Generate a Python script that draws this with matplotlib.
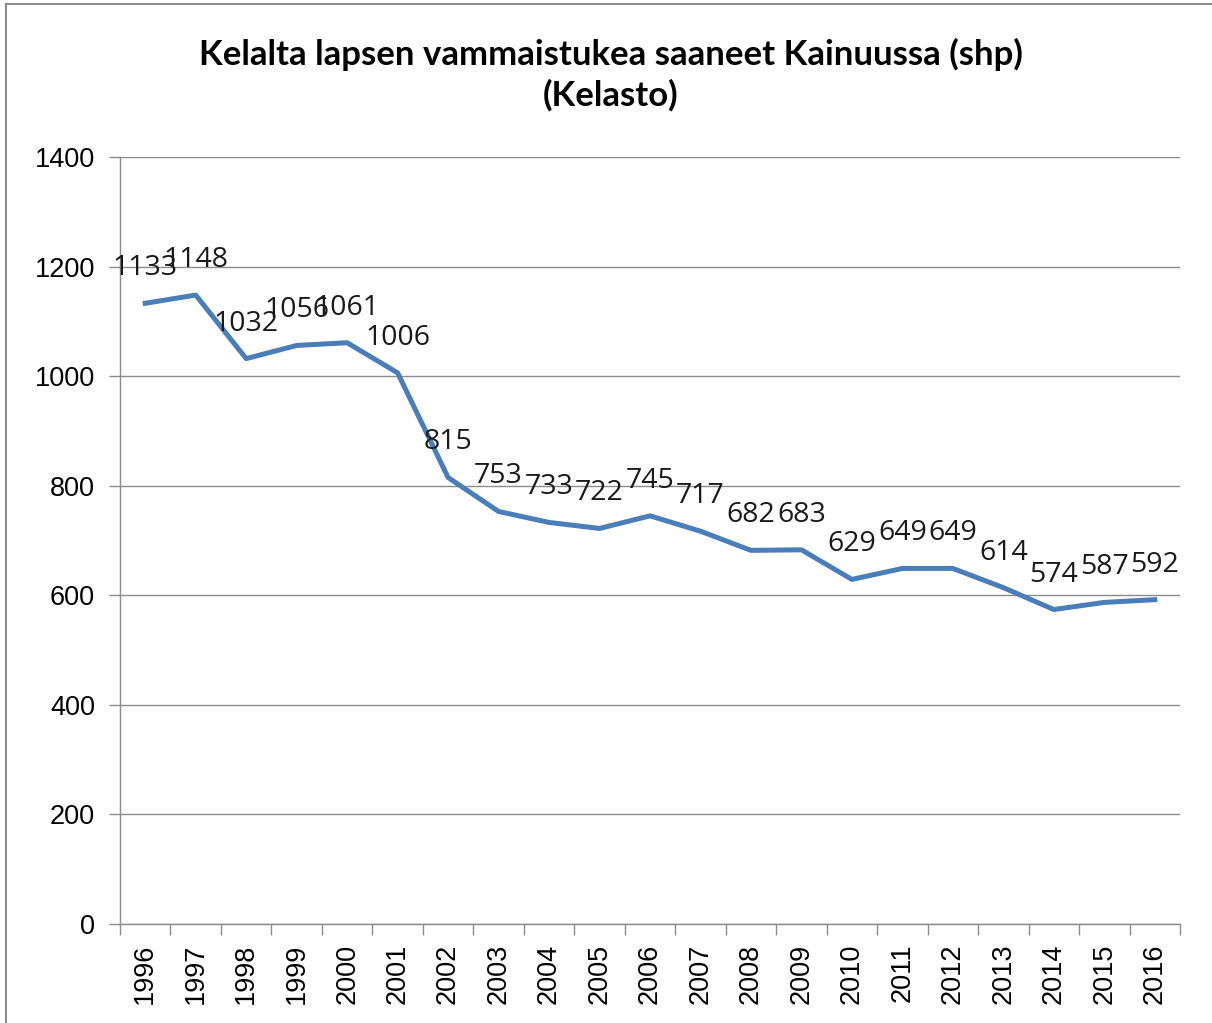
import numpy as np
import matplotlib
matplotlib.use('Agg')
from matplotlib import pyplot as plt
from matplotlib.lines import Line2D


# data
years = [str(y) for y in range(1996, 2017)]
values = [1133, 1148, 1032, 1056, 1061, 1006, 815, 753, 733, 722, 745,
          717, 682, 683, 629, 649, 649, 614, 574, 587, 592]
title = 'Kelalta lapsen vammaistukea saaneet Kainuussa (shp)\n(Kelasto)'

W, H = 1212, 1023
fig = plt.figure(figsize=(W / 100, H / 100), dpi=100)

# outer chart frame: only left and top edge are in view
fx, fy = 6 / W, 1 - 4 / H
fig.lines.append(Line2D([fx, fx], [0, fy], transform=fig.transFigure,
                        color='#8c8c8c', linewidth=1.5))
fig.lines.append(Line2D([fx, 1], [fy, fy], transform=fig.transFigure,
                        color='#8c8c8c', linewidth=1.5))

ax = fig.add_axes([120 / W, 1 - 924 / H, (1180 - 120) / W, (924 - 157) / H])

x = np.arange(len(years))
ax.plot(x, values, color='#4a7ebb', linewidth=3.6)

for xi, v in zip(x, values):
    ax.annotate(str(v), (xi, v), xytext=(0, 28), textcoords='offset pixels',
                ha='center', va='baseline', fontsize=20.5,
                family='Open Sans', color='#1a1a1a')

ax.set_xlim(-0.5, len(years) - 0.5)
ax.set_ylim(0, 1400)
ax.set_yticks(range(0, 1401, 200))
ax.grid(axis='y', color='#8c8c8c', linewidth=1)
ax.set_axisbelow(True)

ax.set_xticks(x)
ax.set_xticklabels(years, rotation=90, family='Liberation Sans', fontsize=19.5)
ax.set_xticks(np.arange(-0.5, len(years)), minor=True)
ax.tick_params(axis='x', which='major', length=0, pad=14)
ax.tick_params(axis='x', which='minor', length=8, width=1, color='#8c8c8c')
ax.tick_params(axis='y', length=8, width=1, color='#8c8c8c', pad=10)
for lab in ax.get_yticklabels():
    lab.set_family('Liberation Sans')
    lab.set_fontsize(19.5)

for s in ['top', 'right']:
    ax.spines[s].set_visible(False)
for s in ['left', 'bottom']:
    ax.spines[s].set_color('#8c8c8c')
    ax.spines[s].set_linewidth(1)

fig.text(0.504, 1 - 75 / H, title, ha='center', va='center',
         fontsize=25, fontweight='bold', family='Lato', linespacing=1.3)

fig.savefig('out.png', dpi=100)
